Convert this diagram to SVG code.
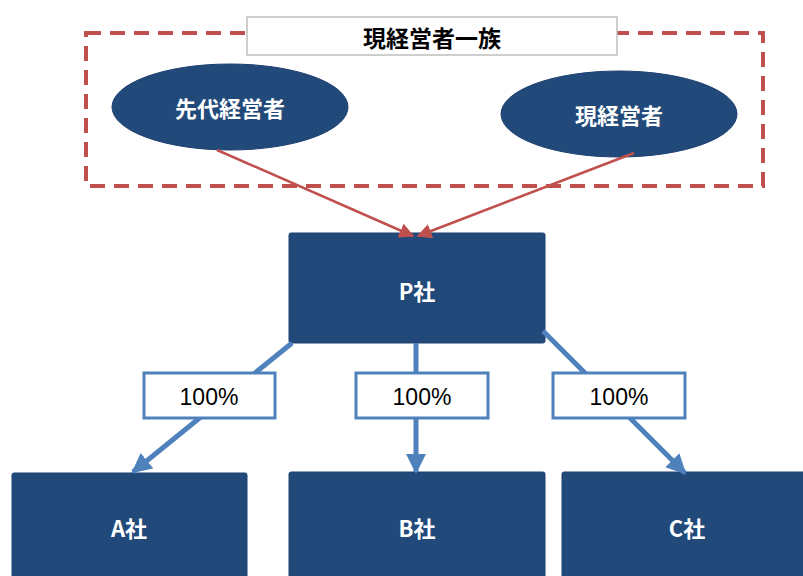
<svg xmlns="http://www.w3.org/2000/svg" width="803" height="576" viewBox="0 0 803 576">
<defs>
<style>
.node{fill:#214A7B;stroke:#1F4070;stroke-width:1}
.wt{fill:#fff;font-family:"Noto Sans CJK JP","Liberation Sans",sans-serif;font-weight:bold;font-size:22px;text-anchor:middle;dominant-baseline:central}
.lbl{fill:#fff;stroke:#4F81BD;stroke-width:3}
.lt{fill:#000;font-family:"Liberation Sans","Noto Sans",sans-serif;font-size:23px;text-anchor:middle;dominant-baseline:central}
.red{stroke:#C0504D;stroke-width:2.5;fill:none;marker-end:url(#ra)}
.blue{stroke:#4F81BD;stroke-width:5;fill:none}
</style>
<marker id="ra" viewBox="0 0 10 10" refX="9" refY="5" markerWidth="6" markerHeight="6" markerUnits="strokeWidth" orient="auto">
<path d="M0,0 L10,5 L0,10 z" fill="#C0504D"/>
</marker>
<marker id="ba" viewBox="0 0 10 10" refX="9" refY="5" markerWidth="4" markerHeight="4" markerUnits="strokeWidth" orient="auto">
<path d="M0,0 L10,5 L0,10 z" fill="#4F81BD"/>
</marker>
</defs>
<rect width="803" height="576" fill="#fff"/>
<g id="family">
<rect x="86" y="33" width="677" height="153" fill="none" stroke="#C0504D" stroke-width="4" stroke-dasharray="15,9"/>
<rect x="247" y="17" width="370" height="38" fill="#fff" stroke="#BFBFBF" stroke-width="1.5"/>
<text x="432" y="37" style="fill:#000;font-family:'Noto Sans CJK JP',sans-serif;font-weight:bold;font-size:23px;text-anchor:middle;dominant-baseline:central">現経営者一族</text>
</g>
<g id="senior">
<ellipse cx="230" cy="107" rx="118" ry="43" class="node"/>
<text x="230" y="107" class="wt">先代経営者</text>
</g>
<g id="current">
<ellipse cx="619" cy="114" rx="118" ry="43" class="node"/>
<text x="619" y="114" class="wt">現経営者</text>
</g>
<g id="P">
<rect x="289" y="233" width="256" height="110" rx="2" class="node"/>
<text x="417" y="290" class="wt">P社</text>
</g>
<g id="A">
<rect x="12" y="473" width="235" height="110" rx="2" class="node"/>
<text x="129" y="527" class="wt">A社</text>
</g>
<g id="B">
<rect x="289" y="472" width="256" height="110" rx="2" class="node"/>
<text x="417" y="527" class="wt">B社</text>
</g>
<g id="C">
<rect x="562" y="472" width="250" height="110" rx="2" class="node"/>
<text x="687" y="527" class="wt">C社</text>
</g>
<g id="connectors">
<line x1="217" y1="150" x2="413" y2="236" class="red"/>
<line x1="634" y1="153" x2="418" y2="236" class="red"/>
<line x1="292" y1="343" x2="133" y2="472" class="blue" marker-end="url(#ba)"/>
<line x1="416" y1="343" x2="416" y2="472" class="blue" marker-end="url(#ba)"/>
<line x1="543" y1="331" x2="685" y2="473" class="blue" marker-end="url(#ba)"/>
</g>
<g id="label-A">
<rect x="144" y="373" width="131" height="45" class="lbl"/>
<text x="209" y="397" class="lt">100%</text>
</g>
<g id="label-B">
<rect x="356" y="373" width="132" height="45" class="lbl"/>
<text x="422" y="397" class="lt">100%</text>
</g>
<g id="label-C">
<rect x="553" y="373" width="132" height="45" class="lbl"/>
<text x="619" y="397" class="lt">100%</text>
</g>
</svg>
